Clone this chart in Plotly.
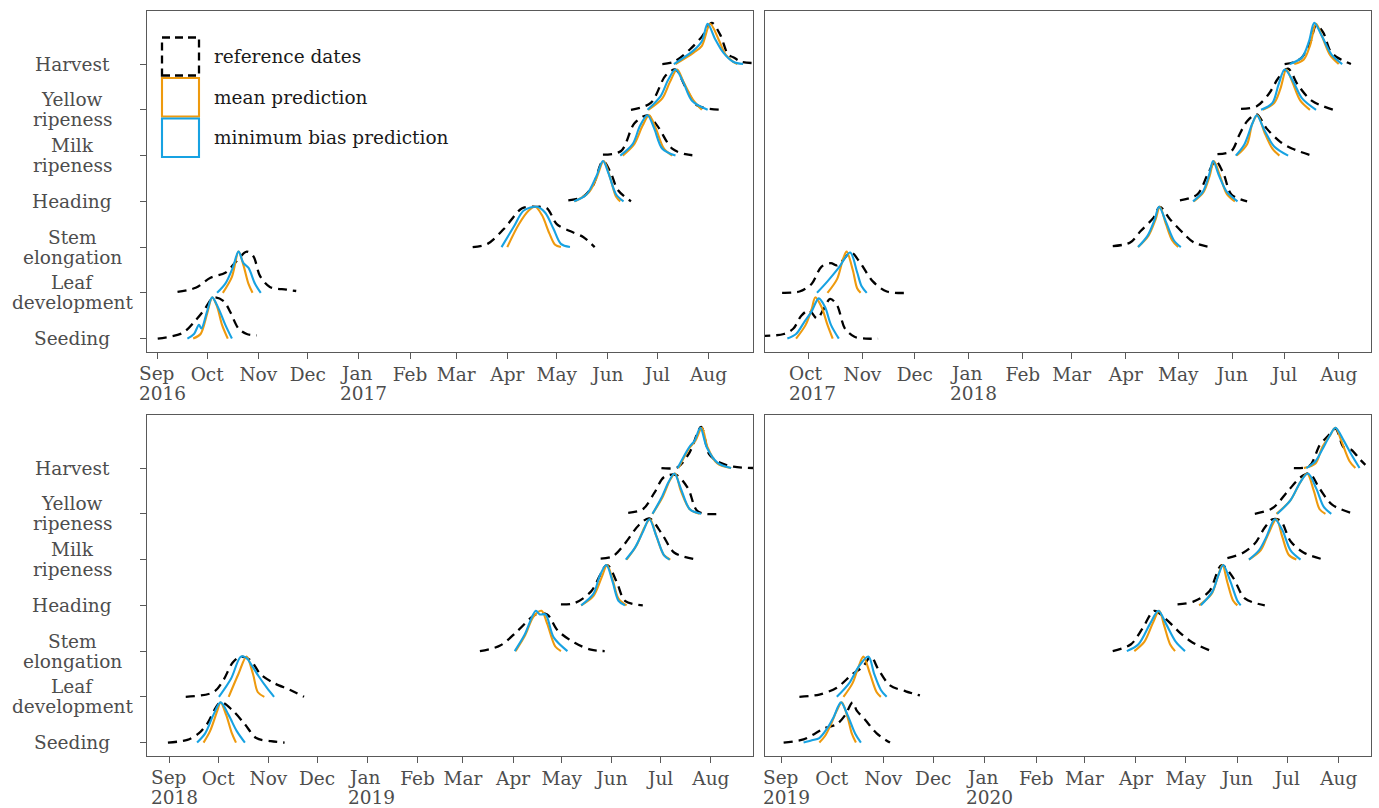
import pandas as pd
import plotly.graph_objects as go

# stages from bottom to top
stages = ["Seeding", "Leaf development", "Stem elongation", "Heading",
          "Milk ripeness", "Yellow ripeness", "Harvest"]
stage_labels = ["Seeding", "Leaf<br>development", "Stem<br>elongation", "Heading",
                "Milk<br>ripeness", "Yellow<br>ripeness", "Harvest"]

# season start years (each season runs from 1 Sep)
seasons = [2016, 2017, 2018, 2019]

# density curves: (days since 1 Sep of the season, scaled density)
ref_2016 = {
    "Seeding": [(0, 0), (15, .12), (23, .4), (28, .62), (34, .9), (40, .82), (44, .58), (49, .22), (54, .1), (60, .07)],
    "Leaf development": [(12, .02), (23, .11), (32, .33), (41, .44), (47, .66), (54, .9), (58, .8), (62, .37), (68, .13), (78, .07), (84, .04)],
    "Stem elongation": [(191, 0), (200, .07), (210, .4), (221, .85), (229, .88), (236, .85), (242, .5), (250, .35), (258, .22), (265, 0)],
    "Heading": [(249, .02), (258, .1), (264, .35), (270, .88), (275, .6), (279, .25), (287, 0)],
    "Milk ripeness": [(270, .02), (281, .1), (289, .7), (297, .88), (303, .65), (312, .15), (320, .03), (327, 0)],
    "Yellow ripeness": [(287, 0), (299, .15), (308, .75), (314, .88), (320, .5), (327, .1), (342, 0)],
    "Harvest": [(306, 0), (313, .05), (323, .33), (330, .6), (336, .9), (341, .65), (346, .2), (349, .15), (354, .05), (363, .02)],
}
mean_2016 = {
    "Seeding": [(21.5, 0), (26, .1), (30, .55), (33, .9), (36, .7), (39, .3), (42.5, 0)],
    "Leaf development": [(39.5, 0), (45, .35), (49, .9), (52, .6), (55, .2), (57.5, 0)],
    "Stem elongation": [(212, 0), (219, .5), (225, .8), (229, .88), (233, .7), (237.5, .3), (241, .05), (244.5, 0)],
    "Heading": [(253, 0), (261.5, .2), (266, .5), (270.5, .88), (274.5, .5), (278, .1), (280.5, 0)],
    "Milk ripeness": [(282, 0), (289, .25), (294, .65), (298, .88), (302, .6), (307, .15), (312, 0)],
    "Yellow ripeness": [(297.5, 0), (306, .25), (310.5, .6), (315, .88), (319, .6), (325, .2), (330, 0)],
    "Harvest": [(314, 0), (325, .25), (330, .4), (335, .88), (340, .55), (344.5, .2), (349, .05), (351.5, 0)],
}
minbias_2016 = {
    "Seeding": [(18, 0), (22, .1), (25, .3), (26.5, .22), (30, .6), (33, .9), (37, .65), (41, .3), (45, 0)],
    "Leaf development": [(36, 0), (41, .2), (45.5, .55), (49, .9), (52, .65), (55, .55), (59, .2), (62.5, 0)],
    "Stem elongation": [(208.5, 0), (216, .45), (222, .8), (230, .88), (235, .75), (240, .4), (244.5, .07), (250, 0)],
    "Heading": [(252.5, 0), (260, .15), (266, .55), (270, .88), (273.5, .6), (278, .15), (282.5, 0)],
    "Milk ripeness": [(280.5, 0), (288, .25), (292.5, .65), (297, .88), (301, .6), (306, .15), (314, 0)],
    "Yellow ripeness": [(297, 0), (305, .3), (309.5, .65), (314, .88), (318.5, .62), (324, .2), (333.5, 0)],
    "Harvest": [(313, 0), (325, .3), (330, .5), (333.5, .88), (338, .55), (343, .25), (349, .05), (355, 0)],
}

ref_2017 = {
    "Seeding": [(3, .06), (16, .1), (21.5, .22), (26, .5), (30.5, .62), (35, .44), (38.5, .62), (42.5, .87), (46.5, .73), (51, .22), (56.5, .04), (63, 0), (70, 0)],
    "Leaf development": [(15, 0), (25, .03), (32, .2), (37.5, .57), (43, .65), (46.5, .6), (54.5, .88), (59, .7), (67, .25), (75, .03), (88, 0)],
    "Stem elongation": [(204.5, .02), (214.5, .1), (220.5, .35), (228, .65), (231.5, .88), (237.5, .6), (245, .3), (251, .1), (260, 0)],
    "Heading": [(243, .02), (253, .15), (259, .6), (263.5, .88), (268, .6), (272.5, .15), (281.5, 0)],
    "Milk ripeness": [(264.5, .03), (272.5, .1), (277, .45), (281.5, .75), (287, .9), (292.5, .6), (300.5, .3), (307.5, .15), (318.5, 0)],
    "Yellow ripeness": [(278, .02), (287, .08), (294, .35), (299.5, .7), (305, .9), (310.5, .55), (318.5, .2), (331, 0)],
    "Harvest": [(303, 0), (309, .05), (313, .15), (318, .5), (321, .85), (325, .7), (329, .3), (333, .15), (337, .07), (341, 0)],
}
mean_2017 = {
    "Seeding": [(23, 0), (28.5, .3), (32, .65), (34, .9), (37.5, .7), (41, .3), (44, 0)],
    "Leaf development": [(41, 0), (46.5, .3), (50, .75), (52, .9), (55.5, .5), (58, .1), (60, 0)],
    "Stem elongation": [(219, 0), (225, .25), (229, .6), (231.5, .88), (235, .5), (238.5, .15), (242, 0)],
    "Heading": [(251, 0), (256.5, .2), (260, .55), (262.5, .88), (266, .55), (270, .15), (274.5, 0)],
    "Milk ripeness": [(275.5, 0), (281.5, .25), (284.5, .7), (287.5, .88), (291.5, .5), (296, .15), (300, 0)],
    "Yellow ripeness": [(290.5, 0), (297, .15), (300.5, .45), (304, .88), (307.5, .6), (312, .2), (317.5, 0)],
    "Harvest": [(308.5, 0), (314, .1), (317.5, .4), (321, .88), (324.5, .6), (329, .2), (334, 0)],
}
minbias_2017 = {
    "Seeding": [(18, 0), (23, .1), (27.5, .35), (32, .6), (36, .88), (39.5, .7), (43, .3), (47.5, 0)],
    "Leaf development": [(35, 0), (41, .25), (47.5, .55), (54, .88), (58, .45), (60.5, .15), (63.5, 0)],
    "Stem elongation": [(219, 0), (224.5, .25), (228.5, .6), (231, .88), (235, .55), (239.5, .15), (243.5, 0)],
    "Heading": [(250.5, 0), (256, .2), (259.5, .55), (262, .88), (265.5, .55), (270, .2), (276, 0)],
    "Milk ripeness": [(275, 0), (280, .25), (284.5, .7), (287, .88), (291.5, .55), (297, .2), (305, 0)],
    "Yellow ripeness": [(289.5, 0), (296, .15), (299.5, .55), (303, .88), (307.5, .65), (313, .25), (321, 0)],
    "Harvest": [(306, 0), (313, .15), (317, .5), (320, .9), (324.5, .6), (330, .2), (336, 0)],
}

ref_2018 = {
    "Seeding": [(-1, 0), (11, .06), (18, .2), (23, .4), (31.5, .88), (39, .7), (46.5, .4), (53.5, .1), (62.5, .03), (71, 0)],
    "Leaf development": [(10, 0), (27, .1), (33, .35), (39, .75), (44, .88), (50, .8), (56, .5), (64.5, .3), (74.5, .15), (83, 0)],
    "Stem elongation": [(191.5, 0), (204, .12), (215, .45), (226, .8), (233, .8), (239.5, .45), (250, .18), (260, .03), (268.5, 0)],
    "Heading": [(241.5, .02), (250, .05), (260, .3), (270, .88), (276, .5), (281, .1), (292, 0)],
    "Milk ripeness": [(266, .02), (273.5, .07), (281, .35), (289.5, .75), (296, .9), (304, .55), (311.5, .15), (326, 0)],
    "Yellow ripeness": [(283, .02), (292, .1), (299, .45), (305, .8), (312.5, .85), (320, .55), (326, .05), (340.5, 0)],
    "Harvest": [(303.5, 0), (313.5, .02), (321, .35), (328, .9), (333, .3), (339.5, .12), (348, .03), (362, 0)],
}
mean_2018 = {
    "Seeding": [(21, 0), (25, .25), (29.5, .7), (31.5, .88), (35, .6), (38.5, .2), (41, 0)],
    "Leaf development": [(36.5, 0), (42.5, .5), (47.5, .88), (51.5, .5), (54.5, .1), (58.5, 0)],
    "Stem elongation": [(213.5, 0), (219.5, .35), (224.5, .75), (229.5, .88), (233, .6), (238, .1), (241.5, 0)],
    "Heading": [(254, 0), (261.5, .2), (266.5, .6), (270, .88), (273.5, .55), (277, .15), (282, 0)],
    "Milk ripeness": [(282, 0), (288, .3), (293, .7), (296.5, .88), (300.5, .5), (305, .1), (309, 0)],
    "Yellow ripeness": [(298, 0), (304, .35), (309, .75), (312, .88), (315.5, .5), (321, .1), (327, 0)],
    "Harvest": [(314, 0), (321, .45), (324.5, .6), (328.5, .88), (332, .45), (338, .1), (346.5, 0)],
}
minbias_2018 = {
    "Seeding": [(17, 0), (22, .2), (27, .6), (31.5, .88), (36.5, .6), (41.5, .25), (46.5, 0)],
    "Leaf development": [(30.5, 0), (38, .4), (44, .88), (47.5, .85), (50.5, .7), (55, .45), (60, .2), (64.5, 0)],
    "Stem elongation": [(213, 0), (219, .35), (226, .88), (228.5, .8), (232, .8), (237, .3), (245.5, 0)],
    "Heading": [(254, 0), (261.5, .25), (265.5, .65), (269.5, .88), (273.5, .5), (277, .1), (281, 0)],
    "Milk ripeness": [(281.5, 0), (287, .25), (292, .6), (296, .88), (300.5, .5), (305, .1), (308.5, 0)],
    "Yellow ripeness": [(298, 0), (303.5, .35), (308, .7), (311.5, .88), (315.5, .55), (321, .1), (328, 0)],
    "Harvest": [(313.5, 0), (320.5, .45), (324, .6), (327.5, .88), (331.5, .45), (338, .12), (346.5, 0)],
}

ref_2019 = {
    "Seeding": [(1, 0), (13, .07), (20, .2), (26, .32), (33, .4), (38, .6), (42.5, .88), (45, .7), (50, .5), (57, .2), (65, 0)],
    "Leaf development": [(10.5, 0), (22.5, .05), (33, .2), (42.5, .5), (48.5, .65), (53.5, .88), (58, .6), (65, .25), (74.5, .12), (83, .03)],
    "Stem elongation": [(199, 0), (210, .15), (217, .5), (224, .88), (231, .7), (239.5, .4), (246.5, .2), (257, .02)],
    "Heading": [(238, .02), (247.5, .08), (257, .3), (264.5, .88), (271.5, .6), (278.5, .15), (290.5, 0)],
    "Milk ripeness": [(268, .03), (277.5, .15), (284.5, .35), (290.5, .7), (295, .88), (300, .85), (306, .4), (314, .15), (326, 0)],
    "Yellow ripeness": [(284.5, 0), (295, .12), (304.5, .5), (312, .8), (317.5, .88), (323.5, .55), (331, .2), (342.5, .02)],
    "Harvest": [(308, 0), (317.5, .05), (323.5, .5), (328.5, .7), (333, .86), (338, .45), (342.5, .4), (347.5, .2), (351, .07)],
}
mean_2019 = {
    "Seeding": [(22.5, 0), (26, .15), (29.5, .4), (33, .7), (36, .88), (39.5, .55), (42, .2), (44.5, 0)],
    "Leaf development": [(37, 0), (42.5, .3), (46, .65), (49, .88), (53, .5), (57, .1), (59.5, 0)],
    "Stem elongation": [(212, 0), (218, .2), (223, .6), (227, .88), (230, .55), (233.5, .15), (236.5, 0)],
    "Heading": [(251, 0), (258.5, .25), (262, .6), (265, .88), (268, .5), (271.5, .1), (274, 0)],
    "Milk ripeness": [(281, 0), (288, .2), (292.5, .55), (297.5, .88), (301, .5), (305, .1), (309.5, 0)],
    "Yellow ripeness": [(297.5, 0), (306, .3), (312, .7), (316, .88), (320, .5), (323.5, .1), (327, 0)],
    "Harvest": [(314, 0), (321, .1), (325, .45), (329.5, .7), (333, .88), (336.5, .6), (341.5, .15), (345, 0)],
}
minbias_2019 = {
    "Seeding": [(13, 0), (18, .05), (22.5, .1), (27, .3), (31, .55), (35.5, .88), (39.5, .6), (44, .2), (47.5, 0)],
    "Leaf development": [(33, 0), (40.5, .3), (46, .65), (52, .88), (55.5, .5), (59.5, .15), (63, 0)],
    "Stem elongation": [(207.5, 0), (214.5, .15), (221.5, .6), (226.5, .88), (231, .6), (237, .2), (242.5, 0)],
    "Heading": [(252, 0), (259, .3), (262.5, .65), (265.5, .88), (270, .5), (274, .1), (276, 0)],
    "Milk ripeness": [(281, 0), (287, .2), (291.5, .5), (296.5, .88), (301, .65), (306, .2), (312, 0)],
    "Yellow ripeness": [(298, 0), (306, .3), (312, .7), (316.5, .88), (321.5, .55), (326, .15), (330.5, 0)],
    "Harvest": [(315.5, 0), (321, .15), (325, .4), (329.5, .7), (333, .88), (338, .6), (342.5, .3), (347.5, 0)],
}

# visible date window per panel, days relative to 1 Sep
x_window = [(-6.5, 361), (5.2, 352.5), (-13.9, 360), (-10.2, 354.4)]

ref_all = [ref_2016, ref_2017, ref_2018, ref_2019]
mean_all = [mean_2016, mean_2017, mean_2018, mean_2019]
minbias_all = [minbias_2016, minbias_2017, minbias_2018, minbias_2019]

ORANGE = "#EE9A0E"
BLUE = "#17A2E2"
GREY_TXT = "#4D4D4D"
GREY_LINE = "#595959"
FONT = "DejaVu Serif"
FS = 18.5
W, H = 1379, 808

styles = [
    ("reference dates", ref_all, dict(color="black", width=2.3, dash="9px,6px")),
    ("mean prediction", mean_all, dict(color=ORANGE, width=2.1)),
    ("minimum bias prediction", minbias_all, dict(color=BLUE, width=2.1)),
]


def px(x):
    return x / W


def py(y):
    return 1 - y / H


fig = go.Figure()
annotations = []

# panel boxes in pixels: (left, right, top, bottom)
boxes = [(147, 753, 11, 352), (765, 1371, 11, 352),
         (147, 753, 415, 756), (765, 1371, 415, 756)]

for i, yr in enumerate(seasons):
    sfx = "" if i == 0 else str(i + 1)
    start = pd.Timestamp(yr, 9, 1)
    for name, series, line in styles:
        dens = series[i]
        for k, stage in enumerate(stages):
            pts = dens[stage]
            xs = [start + pd.Timedelta(days=d) for d, h in pts]
            ys = [k + 1 + h for d, h in pts]
            fig.add_trace(go.Scatter(
                x=xs, y=ys, mode="lines", name=name,
                line=dict(shape="spline", smoothing=0.9, **line),
                xaxis="x" + sfx, yaxis="y" + sfx,
                showlegend=False, hoverinfo="skip"))

    lo = start + pd.Timedelta(days=x_window[i][0])
    hi = start + pd.Timedelta(days=x_window[i][1])
    ticks = pd.date_range(lo.normalize(), hi, freq="MS")
    ticks = [t for t in ticks if t >= lo]

    l, r, t_, b = boxes[i]
    left_col = i % 2 == 0

    # month labels; the ones carrying a year are two left-aligned lines
    months = []
    for j, t in enumerate(ticks):
        if j == 0 or t.month == 1:
            months.append("")
            for txt, dy in ((t.strftime("%b"), 21), (t.strftime("%Y"), 41)):
                annotations.append(dict(
                    text=txt, x=t, xref="x" + sfx, y=py(b + dy), yref="paper",
                    xanchor="left", xshift=-21, yanchor="middle", showarrow=False,
                    font=dict(family=FONT, size=FS, color=GREY_TXT)))
        else:
            months.append(t.strftime("%b"))

    # centred stage names on the left column
    if left_col:
        for k, lab in enumerate(stage_labels):
            parts = lab.split("<br>")
            shifts = [0] if len(parts) == 1 else [10, -10]
            for part, sh in zip(parts, shifts):
                annotations.append(dict(
                    text=part, x=px(72), xref="paper", y=k + 1, yref="y" + sfx,
                    yshift=sh, xanchor="center", yanchor="middle", showarrow=False,
                    font=dict(family=FONT, size=FS, color=GREY_TXT)))

    fig.update_layout(**{
        "xaxis" + sfx: dict(
            domain=[px(l), px(r)], anchor="y" + sfx, range=[lo, hi],
            tickvals=ticks, ticktext=months, ticks="outside", ticklen=6,
            tickwidth=1.3, tickcolor=GREY_LINE, showgrid=False, zeroline=False,
            showline=True, mirror=True, linecolor=GREY_LINE, linewidth=1.3,
            tickfont=dict(family=FONT, size=FS, color=GREY_TXT), automargin=False),
        "yaxis" + sfx: dict(
            domain=[py(b), py(t_)], anchor="x" + sfx, range=[0.707, 8.16],
            tickvals=list(range(1, 8)), showticklabels=False,
            ticks="outside" if left_col else "",
            ticklen=6, tickwidth=1.3, tickcolor=GREY_LINE,
            showgrid=False, zeroline=False, showline=True, mirror=True,
            linecolor=GREY_LINE, linewidth=1.3, automargin=False),
    })

# legend drawn inside the first panel
keys = [
    ("reference dates", dict(color="black", width=2.3, dash="8px,5px"), 37.5, 75.5),
    ("mean prediction", dict(color=ORANGE, width=2.1), 78, 116.5),
    ("minimum bias prediction", dict(color=BLUE, width=2.1), 118.5, 157),
]
shapes = []
for label, line, y0, y1 in keys:
    shapes.append(dict(type="rect", xref="paper", yref="paper",
                       x0=px(162), x1=px(199), y0=py(y1), y1=py(y0), line=line))
    annotations.append(dict(text=label, xref="paper", yref="paper", x=px(212),
                            y=py((y0 + y1) / 2), xanchor="left", yanchor="middle",
                            showarrow=False,
                            font=dict(family=FONT, size=FS, color="#1A1A1A")))

fig.update_layout(
    width=W, height=H, margin=dict(l=0, r=0, t=0, b=0),
    paper_bgcolor="white", plot_bgcolor="white",
    shapes=shapes, annotations=annotations, showlegend=False,
)

fig.write_html("out.html", config={"displayModeBar": False},
               post_script="document.body.style.margin='0px';")
